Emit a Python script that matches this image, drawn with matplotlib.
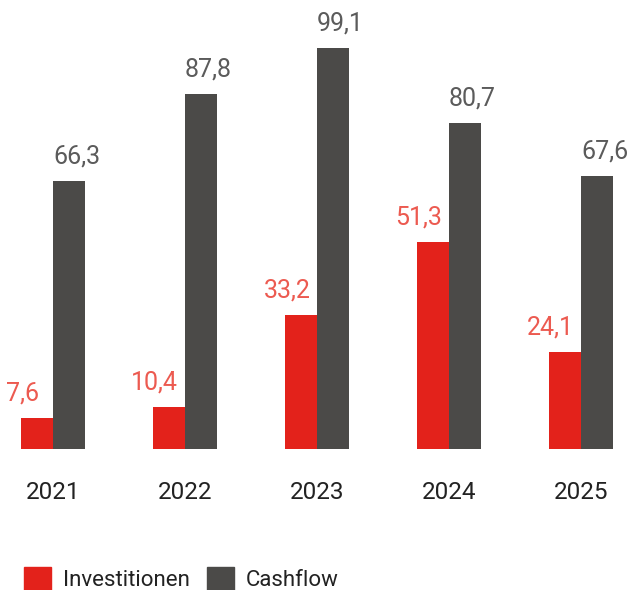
import numpy as np
import matplotlib
matplotlib.use("Agg")
import matplotlib.pyplot as plt
from matplotlib.patches import Patch

# Daten
jahre = ["2021", "2022", "2023", "2024", "2025"]
investitionen = [7.6, 10.4, 33.2, 51.3, 24.1]
cashflow = [66.3, 87.8, 99.1, 80.7, 67.6]

rot = "#e3221b"
grau = "#4b4a48"
rot_text = "#ec5a50"
grau_text = "#5b5b5b"

plt.rcParams['font.family'] = ['Roboto', 'DejaVu Sans']

fig = plt.figure(figsize=(6.3, 5.9), dpi=100, facecolor="white")
ax = fig.add_axes([0, 0.239, 1, 0.761])

x = np.arange(len(jahre))
b = 0.239  # Balkenbreite

ax.bar(x - b / 2, investitionen, width=b, color=rot, label="Investitionen")
ax.bar(x + b / 2, cashflow, width=b, color=grau, label="Cashflow")

# Werte ueber den Balken
for i in range(len(jahre)):
    ax.annotate(f"{investitionen[i]:.1f}".replace(".", ","), (x[i] - b, investitionen[i]),
                xytext=(1, 9), textcoords="offset points", ha="center", va="bottom",
                fontsize=18, color=rot_text)
    ax.annotate(f"{cashflow[i]:.1f}".replace(".", ","), (x[i], cashflow[i]),
                xytext=(0, 9), textcoords="offset points", ha="left", va="bottom",
                fontsize=18, color=grau_text)

ax.set_xlim(-53 / 132, 577 / 132)
ax.set_ylim(0, 111.1)
ax.set_xticks(x)
ax.set_xticklabels(jahre, fontsize=17.5, color="#222222")
ax.tick_params(axis="x", length=0, pad=23)
ax.set_yticks([])
for s in ax.spines.values():
    s.set_visible(False)

handles = [Patch(color=rot, label="Investitionen"), Patch(color=grau, label="Cashflow")]
fig.legend(handles=handles, loc="lower left", bbox_to_anchor=(0.007, -0.035), ncol=2,
           frameon=False, fontsize=16, handlelength=1.2, handleheight=1.2,
           handletextpad=0.55, columnspacing=0.75, labelcolor="#222222")

fig.savefig("out.png", dpi=100, facecolor="white")
